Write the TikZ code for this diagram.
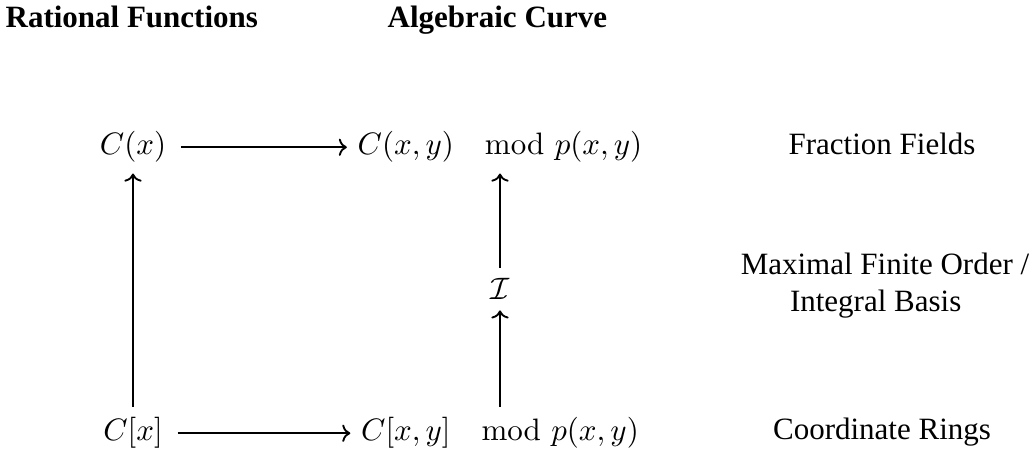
\documentclass[tikz,border=0pt]{standalone}
\usepackage[no-math]{fontspec}
\newfontfamily\timesfont{Liberation Serif}
\usetikzlibrary{arrows.meta}
\begin{document}
\begin{tikzpicture}[x=0.32258pt,y=-0.32258pt,
  header/.style={font=\timesfont\bfseries, inner sep=0pt, anchor=base west},
  rowlabel/.style={font=\timesfont, inner sep=0pt, anchor=base},
  obj/.style={inner sep=3.5pt, outer sep=0pt, anchor=base},
  mapto/.style={line width=0.6pt, -{To[length=2.6pt,width=5.6pt]}}]
\useasboundingbox (0,0) rectangle (1033,451);
% headers
\node[header] (hrf) at (5,28) {Rational Functions};
\node[header] (hac) at (387,28) {Algebraic Curve};
% objects
\node[obj] (cx) at (133,155) {$C(x)$};
\node[obj] (cxy) at (500,155) {$C(x,y)\mkern18mu\mathrm{mod}\,\,p(x,y)$};
\node[inner sep=3.5pt, outer sep=0pt] (ii) at (500,289) {$\mathcal{I}$};
\node[obj] (bx) at (133,441) {$C[x]$};
\node[obj] (bxy) at (500,441) {$C[x,y]\mkern18mu\mathrm{mod}\,\,p(x,y)$};
% row labels
\node[rowlabel] (ff) at (882,155) {Fraction Fields};
\node[rowlabel, align=center] (mfo) at (885,312) {Maximal Finite Order /\\Integral Basis\hspace*{6pt}};
\node[rowlabel] (cr) at (882,440) {Coordinate Rings};
% arrows
\draw[mapto, shorten <=1.3pt] (cx) -- (cxy);
\draw[mapto, shorten <=1.3pt] (bx) -- (bxy);
\draw[mapto] (bx) -- (cx);
\draw[mapto] (bxy) -- (ii);
\draw[mapto] (ii) -- (cxy);
\end{tikzpicture}
\end{document}
